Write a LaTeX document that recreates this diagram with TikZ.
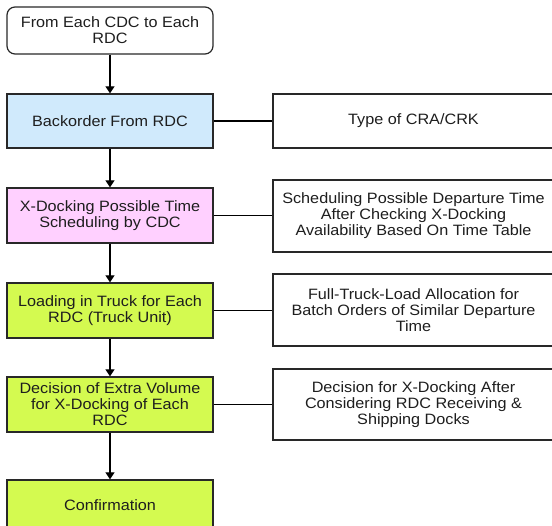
\documentclass[tikz,border=0pt]{standalone}
\usepackage{fontspec}
\setmainfont[FakeStretch=1.08]{Liberation Sans}
\usetikzlibrary{arrows.meta}
\definecolor{boxblue}{RGB}{208,234,252}
\definecolor{boxpink}{RGB}{255,208,255}
\definecolor{boxgreen}{RGB}{212,250,80}
\definecolor{edgegray}{RGB}{40,40,40}
\definecolor{textgray}{RGB}{30,30,30}
\begin{document}
\begin{tikzpicture}[x=1pt,y=-1pt,
  every node/.style={font=\fontsize{15}{16}\selectfont, text=textgray, align=center, inner sep=0pt},
  stepbox/.style={draw=edgegray, line width=1.2pt, minimum width=206pt},
  notebox/.style={draw=edgegray, line width=1.1pt, fill=white, minimum width=281pt},
  flow/.style={draw=black, line width=1.1pt, -{Triangle[length=7pt,width=9pt]}},
  link/.style={draw=black, line width=1.1pt}]
\useasboundingbox (0,0) rectangle (552,526);
\begin{scope}
\clip (0,0) rectangle (552,526);
% main flow column
\node[stepbox, rounded corners=8pt, fill=white, minimum height=47pt] (start) at (110,30.5) {From Each CDC to Each\\RDC};
\node[stepbox, fill=boxblue, minimum height=54pt] (back) at (110,121) {Backorder From RDC};
\node[stepbox, fill=boxpink, minimum height=55pt] (xdock) at (110,215.5) {X-Docking Possible Time\\Scheduling by CDC};
\node[stepbox, fill=boxgreen, minimum height=55pt] (load) at (110,310.5) {Loading in Truck for Each\\RDC (Truck Unit)};
\node[stepbox, fill=boxgreen, minimum height=55pt] (extra) at (110,404.5) {Decision of Extra Volume\\for X-Docking of Each\\RDC};
\node[stepbox, fill=boxgreen, minimum height=55pt] (conf) at (110,507.5) {};
\node at (110,505) {Confirmation};
% notes column
\node[notebox, minimum height=54pt] (type) at (413.5,121) {Type of CRA/CRK};
\node[notebox, minimum height=72pt] (sched) at (413.5,216) {Scheduling Possible Departure Time\\After Checking X-Docking\\Availability Based On Time Table};
\node[notebox, minimum height=72pt] (ftl) at (413.5,310) {Full-Truck-Load Allocation for\\Batch Orders of Similar Departure\\Time};
\node[notebox, minimum height=71pt] (decx) at (413.5,404.5) {Decision for X-Docking After\\Considering RDC Receiving \&\\Shipping Docks};
% connectors
\draw[flow] (start) -- (back);
\draw[flow] (back) -- (xdock);
\draw[flow] (xdock) -- (load);
\draw[flow] (load) -- (extra);
\draw[flow] (extra) -- (conf.north);
\draw[link] (back.east) -- (back.east -| type.west);
\draw[link] (xdock.east) -- (xdock.east -| sched.west);
\draw[link] (load.east) -- (load.east -| ftl.west);
\draw[link] (extra.east) -- (extra.east -| decx.west);
\end{scope}
\end{tikzpicture}
\end{document}
